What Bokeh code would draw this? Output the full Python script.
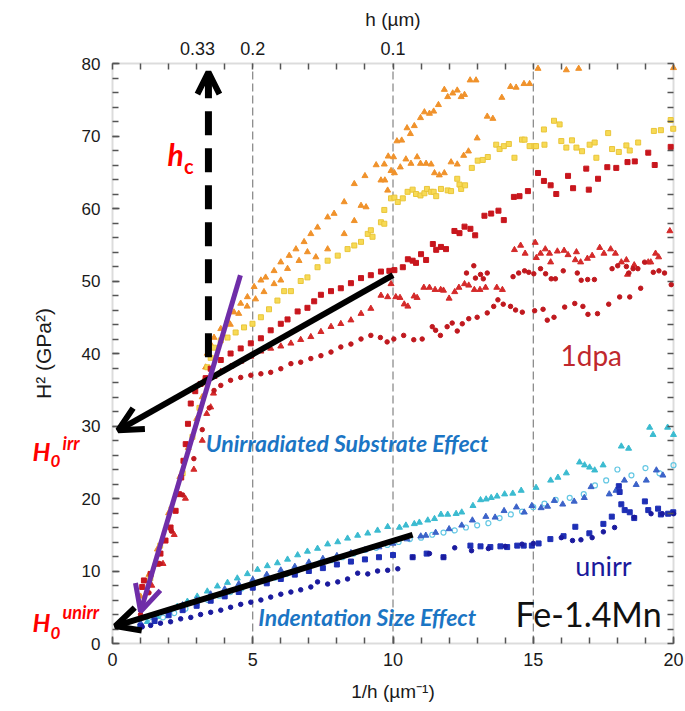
from bokeh.plotting import figure
from bokeh.models import Range1d, LinearAxis, FixedTicker, Arrow, OpenHead, Label, BoxAnnotation
from bokeh.embed import file_html
from bokeh.resources import INLINE

# ---------------- data ----------------
# 1 dpa irradiated
org_x = [1.0, 1.3, 1.6, 2.0, 2.4, 2.7, 3.0, 3.2, 3.26, 3.32, 3.38, 3.5, 3.62, 3.86, 4.1, 4.33, 4.57, 4.81, 5.05, 5.29,
         5.46, 5.76, 6.0, 6.3, 6.54, 6.83, 7.07, 7.31, 7.67, 7.9, 8.26, 8.62, 9.0, 9.4, 9.83, 10.02, 10.14, 10.31, 10.5,
         10.62, 10.76, 10.98, 11.12, 11.3, 11.45, 11.62, 11.83, 11.95, 12.13, 12.29, 12.43, 12.55, 12.75, 12.96, 13.36,
         13.56, 13.88, 14.19, 14.39, 14.67, 14.87, 15.17, 16.18, 16.62, 20.0]
org_y = [6.5, 9.5, 13.0, 18.0, 23.0, 27.0, 31.0, 34.0, 36.3, 38.1, 40.0, 41.3, 42.2, 43.4, 44.6, 45.7, 46.9, 47.8, 49.2,
         50.1, 50.5, 51.4, 52.6, 53.5, 54.4, 55.4, 56.5, 57.4, 58.8, 59.3, 60.9, 63.4, 64.5, 66.0, 67.2, 67.1, 69.3, 69.4,
         71.1, 70.3, 71.4, 72.5, 73.3, 73.1, 73.4, 74.3, 76.4, 75.4, 75.9, 76.3, 75.4, 75.7, 77.7, 77.7, 72.7, 72.4, 75.3,
         76.8, 76.7, 77.2, 77.2, 79.3, 79.1, 79.3, 79.4]
org2_x = [4.2, 4.5, 4.8, 5.1, 5.4, 5.76, 6.0, 6.24, 6.65, 6.95, 7.25, 7.67, 8.26, 8.62, 8.86, 9.04, 9.57, 9.69, 9.71,
          9.81, 9.93, 10.05, 10.26, 10.46, 10.64, 10.86, 10.98, 11.18, 11.36, 11.48, 11.65, 11.83, 12.07, 12.29, 12.52,
          12.69, 13.0]
org2_y = [44.0, 45.5, 46.5, 47.5, 48.5, 49.6, 50.1, 51.7, 52.8, 54.0, 53.3, 54.4, 56.5, 58.3, 60.4, 60.2, 63.9, 66.1,
          63.9, 62.5, 65.2, 64.9, 65.7, 66.8, 66.2, 67.1, 66.2, 66.2, 66.1, 64.9, 64.6, 64.9, 66.4, 66.1, 67.3, 67.9, 69.7]
yel_x = [1.05, 1.35, 1.7, 2.1, 2.5, 2.85, 3.1, 3.3, 3.38, 3.5, 3.62, 3.86, 4.1, 4.39, 4.69, 4.99, 5.29, 5.58, 5.88,
         6.12, 6.36, 6.71, 6.95, 7.31, 7.67, 8.03, 8.38, 8.62, 8.86, 9.1, 9.21, 9.27, 9.57, 9.69, 9.69, 9.93, 10.05,
         10.17, 10.35, 10.52, 10.7, 10.82, 10.98, 11.12, 11.21, 11.36, 11.45, 11.54, 11.71, 11.95, 12.07, 12.29, 12.37,
         12.43, 12.57, 12.81, 13.02, 13.2, 13.38, 13.68, 13.8, 13.95, 14.13, 14.33, 14.6, 14.69, 14.87, 15.05, 15.1,
         15.38, 15.4, 15.74, 15.94, 16.0, 16.18, 16.38, 16.54, 16.74, 17.01, 17.19, 17.25, 17.67, 17.81, 18.05, 18.32,
         18.44, 18.74, 19.3, 19.55, 19.9, 19.99]
yel_y = [5.5, 9.0, 13.5, 18.5, 23.5, 28.5, 32.5, 36.0, 38.1, 39.4, 40.8, 41.8, 42.2, 42.9, 43.6, 44.1, 45.0, 46.1, 47.3,
         48.6, 48.6, 50.0, 50.5, 51.9, 52.8, 53.5, 54.4, 54.9, 55.4, 56.5, 57.0, 56.1, 58.1, 57.9, 59.8, 61.4, 61.5,
         60.9, 61.4, 62.3, 62.6, 62.0, 61.8, 62.1, 62.7, 62.3, 62.3, 61.7, 62.7, 62.5, 62.4, 64.1, 63.3, 62.7, 63.2,
         65.6, 66.6, 66.7, 67.1, 68.8, 68.2, 68.6, 68.9, 67.0, 69.5, 69.5, 68.6, 68.6, 68.6, 70.9, 68.8, 72.1, 71.6,
         69.3, 68.4, 69.4, 68.4, 67.9, 68.8, 69.1, 67.0, 70.4, 68.2, 67.8, 68.7, 68.0, 69.1, 70.7, 70.8, 72.2, 71.0]
rsq_x = [1.06, 1.12, 1.36, 1.6, 1.71, 1.89, 2.07, 2.25, 2.37, 2.45, 2.53, 2.61, 2.69, 2.79, 2.95, 3.14, 3.32, 3.5,
         3.86, 4.21, 4.57, 4.93, 5.29, 5.64, 6.0, 6.24, 6.6, 6.95, 7.19, 7.43, 7.79, 8.14, 8.5, 8.86, 9.21, 9.57, 9.87,
         10.05, 10.35, 10.53, 10.7, 10.82, 11.0, 11.18, 11.42, 11.54, 11.71, 11.89, 12.19, 12.37, 12.55, 12.76, 12.93,
         13.26, 13.5, 13.76, 13.95, 14.31, 14.51, 14.81, 15.17, 15.38, 15.62, 15.82, 16.24, 16.42, 16.89, 16.98, 17.31,
         17.64, 17.96, 18.36, 18.62, 19.1, 19.33, 19.9]
rsq_y = [7.8, 8.7, 9.6, 11.0, 12.4, 14.2, 16.0, 18.3, 20.6, 22.9, 25.2, 27.5, 30.3, 33.1, 34.8, 35.8, 36.6, 37.9, 39.1,
         40.0, 40.7, 41.4, 42.1, 43.2, 44.1, 44.7, 45.8, 46.3, 47.2, 48.1, 48.6, 49.0, 49.7, 50.4, 50.8, 51.3, 51.4,
         51.5, 51.9, 53.0, 52.8, 52.5, 53.7, 52.9, 55.1, 54.3, 54.7, 54.4, 56.9, 56.6, 57.5, 57.2, 56.3, 59.0, 59.3,
         59.7, 58.4, 61.6, 61.7, 62.4, 64.9, 63.8, 63.2, 62.0, 64.5, 62.8, 65.5, 62.6, 64.1, 65.7, 65.6, 66.4, 66.5,
         67.7, 66.0, 68.5]
rtri_x = [1.4, 1.8, 2.2, 2.6, 2.9, 3.2, 3.36, 3.5, 3.6, 3.62, 3.86, 4.21, 4.57, 4.93, 5.29, 5.64, 6.0, 6.36, 6.71, 7.07,
          7.43, 7.79, 8.14, 8.5, 8.86, 9.21, 9.57, 9.81, 9.93, 10.1, 10.25, 10.4, 10.53, 10.75, 10.86, 11.1, 11.3, 11.5,
          11.7, 11.8, 12.0, 12.2, 12.35, 12.55, 12.7, 12.9, 13.1, 13.3, 13.7, 13.9, 14.33, 14.55, 14.71, 15.07, 15.11,
          15.26, 15.43, 15.58, 15.62, 15.86, 16.1, 16.24, 16.5, 16.54, 16.69, 16.93, 17.1, 17.37, 17.52, 17.76, 17.93,
          18.14, 18.32, 18.36, 18.6, 19.1, 19.19, 19.36, 19.47, 19.87]
rtri_y = [8.0, 11.0, 15.0, 20.0, 24.0, 28.0, 31.7, 32.6, 34.5, 36.8, 37.5, 38.2, 38.9, 39.6, 40.3, 40.7, 41.0, 41.4,
          41.9, 42.3, 43.0, 43.7, 44.1, 44.6, 45.5, 46.2, 48.0, 47.8, 49.6, 47.8, 47.7, 46.8, 46.5, 47.9, 47.7, 49.1,
          49.1, 48.8, 48.8, 48.7, 47.6, 48.5, 49.1, 49.6, 49.4, 48.8, 48.8, 49.1, 49.1, 48.8, 54.3, 54.9, 53.8, 55.3,
          53.2, 53.8, 54.4, 53.8, 52.6, 54.1, 54.2, 53.6, 52.9, 54.0, 52.6, 53.1, 53.5, 54.6, 53.8, 54.4, 53.8, 52.6,
          52.9, 50.9, 52.2, 52.6, 52.6, 53.8, 53.3, 56.9]
rcir_x = [1.0, 1.3, 1.7, 2.1, 2.5, 2.9, 3.2, 3.45, 3.62, 3.86, 4.21, 4.57, 4.93, 5.29, 5.64, 6.0, 6.36, 6.71, 7.07,
          7.43, 7.79, 8.14, 8.5, 8.86, 9.21, 9.55, 9.79, 10.03, 10.38, 10.74, 11.04, 11.4, 11.52, 11.69, 11.93, 12.11,
          12.29, 12.47, 12.7, 13.0, 13.36, 13.59, 13.74, 13.93, 14.19, 14.37, 14.61, 15.05, 15.35, 15.5, 15.74, 16.12,
          16.48, 16.77, 16.95, 17.29, 17.69, 18.08, 18.44, 18.83]
rcir_y = [4.0, 7.0, 11.0, 15.5, 20.5, 25.5, 29.5, 32.5, 34.9, 35.6, 36.3, 36.7, 37.0, 37.2, 37.4, 37.9, 38.6, 38.8,
          39.3, 39.7, 40.2, 40.9, 41.3, 42.0, 42.5, 42.2, 41.6, 42.0, 42.5, 41.9, 42.0, 43.7, 43.2, 42.5, 43.7, 44.2,
          43.1, 44.1, 44.8, 45.0, 45.6, 46.5, 47.4, 46.8, 46.5, 46.0, 45.7, 45.9, 46.1, 44.6, 45.0, 46.4, 46.9, 46.5,
          45.4, 45.5, 46.8, 47.8, 47.8, 49.0]
rcir2_x = [12.62, 12.88, 12.94, 13.12, 13.22, 13.36, 14.28, 14.48, 14.69, 14.84, 15.02, 15.26, 15.44, 15.64, 15.79,
           16.07, 16.57, 16.71, 16.94, 17.18, 17.81, 18.01, 18.32, 18.41, 18.56, 18.73, 18.97, 19.28, 19.48, 19.68,
           19.92]
rcir2_y = [51.1, 52.1, 50.4, 50.9, 50.3, 51.1, 50.6, 51.1, 51.4, 51.2, 51.0, 51.7, 51.0, 50.3, 50.3, 51.4, 51.1, 50.1,
           50.2, 50.2, 51.7, 52.1, 52.0, 51.1, 51.7, 51.7, 52.6, 51.2, 51.4, 51.1, 49.5]

# unirradiated
ltri_x = [1.0, 1.24, 1.6, 1.95, 2.31, 2.67, 3.02, 3.38, 3.74, 4.1, 4.45, 4.81, 5.17, 5.52, 5.88, 6.24, 6.6, 6.95, 7.31,
          7.67, 8.03, 8.38, 8.74, 9.1, 9.45, 9.81, 10.23, 10.46, 10.76, 10.94, 11.24, 11.48, 11.71, 11.95, 12.25,
          12.45, 12.85, 13.12, 13.32, 13.5, 13.71, 13.98, 14.27, 14.57, 15.1, 15.62, 15.88, 16.18, 16.65, 16.83, 17.01,
          17.19, 17.49, 18.14, 18.4, 19.15, 19.27, 19.79, 20.0]
ltri_y = [2.5, 3.0, 3.7, 4.4, 5.1, 5.8, 6.5, 7.2, 7.9, 8.4, 9.0, 9.6, 10.2, 10.7, 11.1, 11.6, 12.2, 12.7, 13.1, 13.7,
          14.0, 14.5, 14.9, 15.2, 15.6, 16.1, 16.0, 16.3, 16.5, 16.7, 17.0, 17.2, 17.8, 17.8, 17.9, 18.1, 19.0, 19.8,
          19.9, 20.1, 20.3, 20.6, 20.7, 21.1, 21.5, 22.5, 22.9, 23.5, 25.0, 24.6, 24.3, 23.9, 24.6, 27.2, 26.9, 29.8,
          28.8, 29.8, 28.8]
ccir_x = [1.0, 1.4, 1.8, 2.2, 2.6, 3.0, 3.4, 3.8, 4.2, 4.6, 5.0, 5.4, 5.8, 6.2, 6.6, 7.0, 7.4, 7.8, 8.2, 8.6, 9.0, 9.4,
          9.8, 10.2, 10.6, 11.0, 11.4, 11.8, 12.2, 12.6, 13.0, 13.4, 13.8, 14.2, 14.6, 15.0, 15.4, 15.8, 16.3, 16.8,
          17.2, 17.6, 18.0, 18.5, 19.0, 19.5, 20.0]
ccir_y = [2.4, 3.0, 3.6, 4.2, 4.8, 5.4, 6.0, 6.6, 7.1, 7.6, 8.1, 8.6, 9.1, 9.6, 10.1, 10.6, 11.1, 11.5, 11.9, 12.4,
          12.9, 13.2, 13.6, 14.0, 14.4, 14.6, 15.0, 15.3, 15.6, 16.0, 16.3, 16.6, 17.3, 17.8, 18.2, 18.8, 19.3, 19.8,
          20.1, 20.6, 21.8, 22.5, 24.0, 23.2, 24.2, 23.5, 24.6]
mtri_x = [1.0, 1.5, 2.0, 2.5, 3.0, 3.5, 4.0, 4.5, 5.0, 5.5, 6.0, 6.5, 7.0, 7.5, 8.0, 8.5, 9.0, 9.5, 10.0, 10.5, 10.99,
          11.17, 11.52, 12.0, 12.45, 12.83, 13.31, 13.64, 13.96, 14.4, 14.68, 14.95, 15.28, 15.51, 15.75, 16.05, 16.46,
          16.82, 17.06, 17.71, 17.95, 18.25, 18.67, 19.03, 19.39, 19.62]
mtri_y = [2.8, 3.6, 4.5, 5.3, 6.0, 6.8, 7.5, 8.2, 8.8, 9.5, 10.1, 10.6, 11.2, 11.7, 12.1, 12.5, 12.9, 13.3, 13.8, 14.4,
          14.8, 14.9, 15.3, 15.8, 16.3, 17.0, 17.5, 17.4, 18.3, 18.8, 18.1, 19.0, 18.7, 18.9, 19.7, 19.2, 19.6, 20.1,
          21.6, 20.6, 21.1, 22.5, 21.9, 22.5, 23.9, 23.2]
bsq_x = [1.0, 1.5, 2.0, 2.5, 3.0, 3.5, 4.0, 4.5, 5.0, 5.5, 6.0, 6.5, 7.0, 7.5, 8.0, 8.5, 9.0, 9.5, 10.0, 10.7, 11.2,
         11.8, 12.76, 13.12, 13.47, 13.83, 14.07, 14.43, 14.66, 14.95, 15.19, 15.61, 16.08, 16.5, 17.0, 17.5, 17.8,
         18.05, 18.08, 18.14, 18.26, 18.44, 18.6, 18.98, 19.1, 19.45, 19.55, 19.81, 19.99]
bsq_y = [2.4, 3.1, 3.9, 4.6, 5.2, 5.9, 6.5, 7.1, 7.7, 8.3, 8.9, 9.5, 10.0, 10.4, 10.9, 11.3, 11.6, 11.9, 12.2, 11.9,
         12.4, 11.9, 13.5, 13.4, 13.3, 13.4, 13.3, 13.5, 13.5, 13.5, 13.8, 14.4, 14.8, 16.1, 15.2, 16.5, 17.5, 21.7,
         20.9, 19.2, 18.4, 18.1, 17.3, 19.6, 18.4, 18.6, 17.8, 17.9, 18.1]
dcir_x = [1.06, 1.36, 1.71, 2.07, 2.43, 2.79, 3.14, 3.5, 3.86, 4.21, 4.57, 4.93, 5.29, 5.64, 6.0, 6.36, 6.71, 7.07,
          7.31, 7.67, 8.03, 8.38, 8.74, 9.1, 9.45, 9.81, 10.17, 10.7, 11.3, 11.8, 12.2, 12.8, 13.4, 14.0, 14.6, 15.0,
          16.0, 16.4, 16.7, 17.1, 17.5, 17.9, 18.6, 19.2, 19.6, 20.0]
dcir_y = [2.3, 2.5, 2.8, 3.0, 3.4, 3.6, 4.0, 4.3, 4.6, 5.0, 5.4, 5.7, 6.0, 6.4, 6.8, 7.1, 7.4, 7.8, 8.5, 8.2, 8.5, 8.9,
          9.7, 9.6, 10.0, 10.1, 10.3, 11.9, 12.4, 11.9, 13.2, 12.8, 13.1, 13.4, 13.7, 13.8, 14.6, 14.2, 14.3, 14.6,
          15.4, 16.0, 17.4, 17.9, 17.9, 17.9]

# axes / ticks
x_lo, x_hi = 0, 20
y_lo, y_hi = 0, 80
x_major = [0, 5, 10, 15, 20]
x_minor = list(range(0, 21))
y_major = [0, 10, 20, 30, 40, 50, 60, 70, 80]
y_minor = list(range(0, 81, 2))
h_ticks = [0.33, 0.2, 0.1]
h_labels = ["0.33", "0.2", "0.1"]
grid_x = [5, 10, 15]

# ---------------- figure ----------------
W, H = 685, 711
FL, FR, FT, FB = 112, 673, 63, 643          # pixel box of the data frame
sx = (FR - FL) / (x_hi - x_lo)
sy = (FB - FT) / (y_hi - y_lo)
xr = Range1d(x_lo - FL / sx, x_hi + (W - FR) / sx)
yr = Range1d(y_lo - (H - FB) / sy, y_hi + FT / sy)

FONT = "Liberation Sans"
p = figure(width=W, height=H, x_range=xr, y_range=yr, output_backend="svg", toolbar_location=None,
           x_axis_location=None, y_axis_location=None,
           min_border=0, min_border_left=0, min_border_right=0, min_border_top=0, min_border_bottom=0)
p.background_fill_color = "white"
p.border_fill_color = "white"
p.outline_line_color = None
p.grid.visible = False

p.add_layout(BoxAnnotation(left=x_lo, right=x_hi, bottom=y_lo, top=y_hi, fill_alpha=0,
                           line_color="#8c8c8c", line_width=2, level="underlay"))
p.segment(x0=grid_x, y0=[y_lo] * len(grid_x), x1=grid_x, y1=[y_hi] * len(grid_x),
          line_color="#6a6a6a", line_dash="8 4", line_width=1)


def style_axis(ax):
    ax.axis_line_color = None
    ax.major_tick_in = 7
    ax.major_tick_out = 0
    ax.minor_tick_in = 6
    ax.minor_tick_out = 0
    ax.major_tick_line_color = "#555555"
    ax.minor_tick_line_color = "#555555"
    ax.major_tick_line_width = 1.5
    ax.minor_tick_line_width = 1.5
    ax.major_label_text_font = FONT
    ax.major_label_text_font_size = "18px"
    ax.major_label_text_color = "#1a1a1a"
    ax.axis_label_text_font = FONT
    ax.axis_label_text_font_size = "19px"
    ax.axis_label_text_font_style = "normal"
    ax.axis_label_text_color = "#1a1a1a"


xa = LinearAxis(fixed_location=y_lo, bounds=(x_lo, x_hi), ticker=FixedTicker(ticks=x_major, minor_ticks=x_minor))
style_axis(xa)
xa.axis_label = "1/h (µm⁻¹)"
xa.major_label_standoff = 9
xa.axis_label_standoff = 12
p.add_layout(xa, "below")

ya = LinearAxis(fixed_location=x_lo, bounds=(y_lo, y_hi), ticker=FixedTicker(ticks=y_major, minor_ticks=y_minor))
style_axis(ya)
ya.major_label_text_font_size = "17px"
ya.axis_label = "H² (GPa²)"
ya.axis_label_text_font_size = "21px"
ya.major_label_standoff = 12
ya.axis_label_standoff = 24
p.add_layout(ya, "left")

ra = LinearAxis(fixed_location=x_hi, bounds=(y_lo, y_hi), ticker=FixedTicker(ticks=[], minor_ticks=y_minor))
style_axis(ra)
p.add_layout(ra, "right")

top_pos = [1.0 / h for h in h_ticks]
ta = LinearAxis(fixed_location=y_hi, bounds=(x_lo, x_hi), ticker=FixedTicker(ticks=top_pos, minor_ticks=x_minor))
style_axis(ta)
ta.major_tick_in = 0
ta.major_label_overrides = {pos: lab for pos, lab in zip(top_pos, h_labels)}
ta.axis_label = "h (µm)"
ta.major_label_standoff = 9
ta.axis_label_standoff = 9
p.add_layout(ta, "above")

# ---------------- data marks ----------------
p.scatter(org_x, org_y, marker="triangle", size=6, fill_color="#f0922b", line_color="#f0922b")
p.scatter(org2_x, org2_y, marker="triangle", size=6, fill_color="#f0922b", line_color="#f0922b")
p.scatter(yel_x, yel_y, marker="square", size=5, fill_color="#f7da55", line_color="#e9c53a")
p.scatter(rsq_x, rsq_y, marker="square", size=5, fill_color="#c8161d", line_color="#c8161d")
p.scatter(rtri_x, rtri_y, marker="triangle", size=6, fill_color="#d42a2a", line_color="#d42a2a")
p.scatter(rcir_x, rcir_y, marker="circle", size=4.5, fill_color="#c0181e", line_color="#c0181e")
p.scatter(rcir2_x, rcir2_y, marker="circle", size=4.5, fill_color="#c0181e", line_color="#c0181e")

p.scatter(ltri_x, ltri_y, marker="triangle", size=6, fill_color="#3bbbd0", line_color="#3bbbd0")
p.scatter(ccir_x, ccir_y, marker="circle", size=5, fill_color=None, line_color="#63c7e3", line_width=1.2)
p.scatter(mtri_x, mtri_y, marker="triangle", size=6, fill_color="#3c63c9", line_color="#3c63c9")
p.scatter(bsq_x, bsq_y, marker="square", size=5, fill_color="#1e2fb5", line_color="#1e2fb5")
p.scatter(dcir_x, dcir_y, marker="circle", size=4.5, fill_color="#1a1a9e", line_color="#1a1a9e")

# ---------------- annotations ----------------
p.add_layout(Arrow(end=OpenHead(size=22, line_width=6, line_color="black"),
                   x_start=3.42, y_start=39.5, x_end=3.42, y_end=78.8,
                   line_width=7, line_color="black", line_dash="24 13"))
p.add_layout(Arrow(end=OpenHead(size=24, line_width=6, line_color="black"),
                   x_start=10.0, y_start=50.8, x_end=0.2, y_end=29.4,
                   line_width=6, line_color="black"))
p.add_layout(Arrow(end=OpenHead(size=24, line_width=6, line_color="black"),
                   x_start=10.7, y_start=15.0, x_end=0.1, y_end=2.4,
                   line_width=6, line_color="black"))
p.add_layout(Arrow(end=OpenHead(size=26, line_width=5, line_color="#6f2da8"),
                   x_start=4.56, y_start=50.8, x_end=1.0, y_end=4.4,
                   line_width=5, line_color="#6f2da8"))

CAL = "Lato"


def lab(x, y, text, size, color, style="normal", font=CAL, align="left"):
    p.add_layout(Label(x=x, y=y, text=text, text_font=font, text_font_size=size,
                       text_color=color, text_font_style=style, text_align=align,
                       text_baseline="alphabetic"))


lab(1.96, 67.5, "h", "30px", "#ff0000", "bold italic")
lab(2.55, 65.8, "c", "20px", "#ff0000", "bold")
lab(-2.85, 26.6, "H", "25px", "#ff0000", "bold italic")
lab(-2.21, 25.2, "0", "17px", "#ff0000", "bold italic")
lab(-1.78, 27.6, "irr", "18px", "#ff0000", "bold italic")
lab(-2.85, 2.9, "H", "25px", "#ff0000", "bold italic")
lab(-2.21, 1.4, "0", "17px", "#ff0000", "bold italic")
lab(-1.78, 4.4, "unirr", "18px", "#ff0000", "bold italic")

lab(3.32, 27.6, "Unirradiated Substrate Effect", "23px", "#1b75c4", "bold italic")
lab(5.2, 3.7, "Indentation Size Effect", "23px", "#1b75c4", "bold italic")
lab(15.97, 39.8, "1dpa", "28px", "#c0282d")
lab(16.5, 10.8, "unirr", "27px", "#1a1a9c")
lab(14.37, 4.1, "Fe-1.4Mn", "34px", "#111111")

open("out.html", "w").write(file_html(p, INLINE))
